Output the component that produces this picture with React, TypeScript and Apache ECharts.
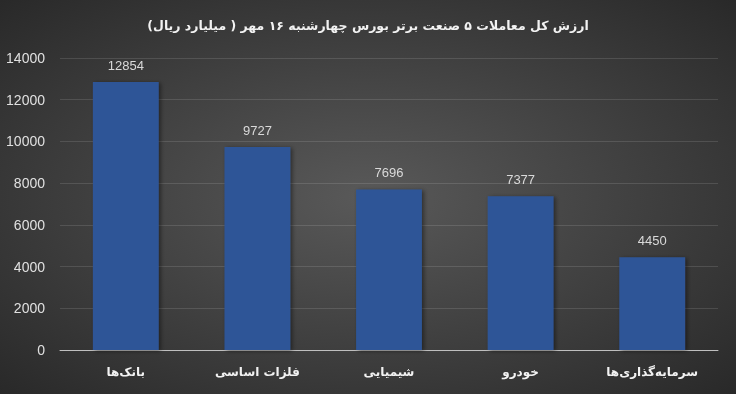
import React, { useEffect, useRef } from "react";
import * as echarts from "echarts";

const titleText = "ارزش کل معاملات ۵ صنعت برتر بورس چهارشنبه ۱۶ مهر ( میلیارد ریال)";
const categories = ["بانک‌ها", "فلزات اساسی", "شیمیایی", "خودرو", "سرمایه‌گذاری‌ها"];
const values = [12854, 9727, 7696, 7377, 4450];
const yMin = 0;
const yMax = 14000;
const yInterval = 2000;

export default function App() {
  const ref = useRef<HTMLDivElement>(null);
  useEffect(() => {
    if (!ref.current) return;
    const chart = echarts.init(ref.current, null, { renderer: "svg" });
    chart.setOption({
      animation: false,
      backgroundColor: {
        type: "radial",
        x: 0.5,
        y: 0.5,
        r: 0.75,
        colorStops: [
          { offset: 0, color: "#595959" },
          { offset: 1, color: "#262626" },
        ],
      },
      title: {
        text: titleText,
        left: "center",
        top: 14,
        textStyle: {
          color: "#f2f2f2",
          fontSize: 12.5,
          fontWeight: "bold",
          fontFamily: "DejaVu Sans",
        },
      },
      grid: { left: 60, right: 18, top: 58, bottom: 44, containLabel: false },
      xAxis: {
        type: "category",
        data: categories,
        axisLine: { lineStyle: { color: "#bfbfbf", width: 1 } },
        axisTick: { show: false },
        axisLabel: {
          color: "#f2f2f2",
          fontSize: 12,
          fontWeight: "bold",
          fontFamily: "DejaVu Sans",
          margin: 16,
        },
      },
      yAxis: {
        type: "value",
        min: yMin,
        max: yMax,
        interval: yInterval,
        axisLine: { show: false },
        axisTick: { show: false },
        splitLine: { lineStyle: { color: "rgba(255,255,255,0.12)", width: 1 } },
        axisLabel: {
          color: "#e0e0e0",
          fontSize: 14,
          fontFamily: "Liberation Sans, Arial, sans-serif",
          margin: 15,
          formatter: (v: number) => String(v),
        },
      },
      series: [
        {
          type: "bar",
          data: values,
          barWidth: "50%",
          itemStyle: {
            color: "#2f5597",
            shadowColor: "rgba(0,0,0,0.45)",
            shadowBlur: 4,
            shadowOffsetX: 2,
            shadowOffsetY: 1,
          },
          label: {
            show: true,
            position: "top",
            distance: 10,
            color: "#d9d9d9",
            fontSize: 13,
            fontFamily: "Liberation Sans, Arial, sans-serif",
          },
        },
      ],
    });
    return () => chart.dispose();
  }, []);
  return <div ref={ref} style={{ width: 736, height: 394, position: "fixed", left: 0, top: 0 }} />;
}
